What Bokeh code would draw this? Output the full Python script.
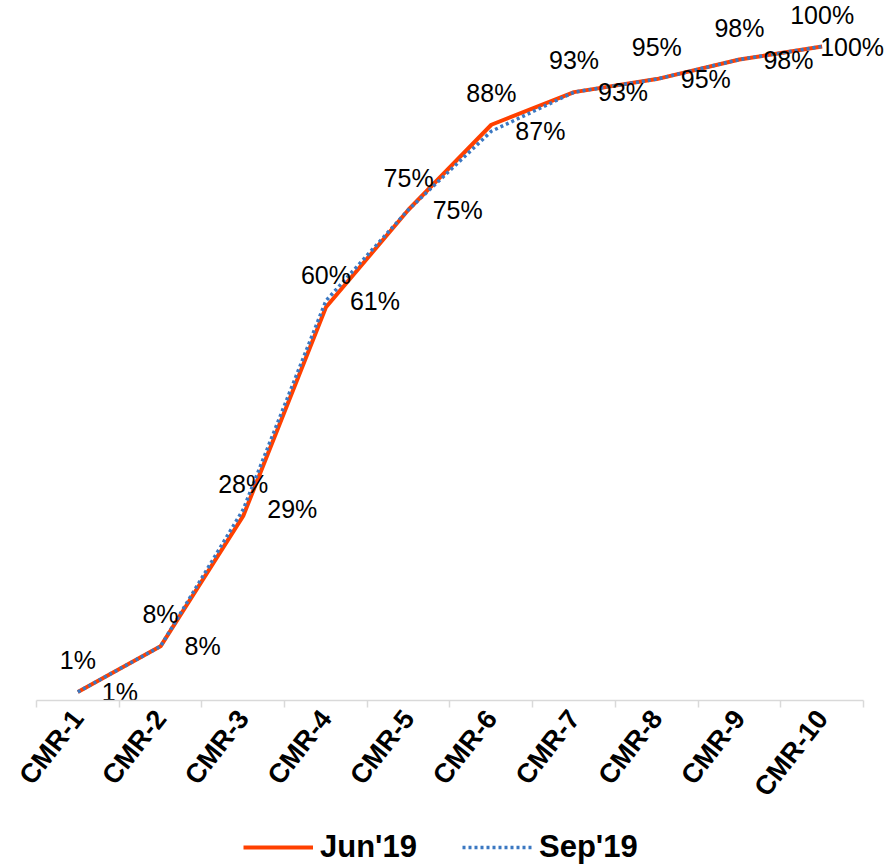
import math

from bokeh.core.properties import value
from bokeh.embed import file_html
from bokeh.layouts import column
from bokeh.models import (ColumnDataSource, FixedTicker, Legend, LegendItem,
                          LinearAxis, Range1d)
from bokeh.plotting import figure
from bokeh.resources import INLINE

# Cumulative share by CMR band
categories = ["CMR-1", "CMR-2", "CMR-3", "CMR-4", "CMR-5",
              "CMR-6", "CMR-7", "CMR-8", "CMR-9", "CMR-10"]
jun19 = [1, 8, 28, 60, 75, 88, 93, 95, 98, 100]
sep19 = [1, 8, 29, 61, 75, 87, 93, 95, 98, 100]
series_names = ["Jun'19", "Sep'19"]

FONT = "Liberation Sans"
JUN_STYLE = dict(line_color="#FF4000", line_width=4)
SEP_STYLE = dict(line_color="#3B78C2", line_width=3.5, line_dash="3 3")

n = len(categories)
xs = [i + 0.5 for i in range(n)]  # category centres

# Sep'19 labels sit to the right of each point; the last one is pulled
# back so it stays inside the chart.
sep_dx = [24] * (n - 1) + [-2]

src = ColumnDataSource(dict(
    x=xs,
    jun=jun19,
    sep=sep19,
    jun_lbl=[f"{v}%" for v in jun19],
    sep_lbl=[f"{v}%" for v in sep19],
    sep_dx=sep_dx,
))

W = 886
PX_PER_PCT = 6.52
ZERO_Y = 698      # screen row of the 0% level
FRAME_H = 700     # axis line sits at the frame bottom
CHART_H = 826
LEGEND_H = 866 - CHART_H

p = figure(
    width=W, height=CHART_H,
    x_range=Range1d(-0.435, n + 0.278),
    y_range=Range1d(-(FRAME_H - ZERO_Y) / PX_PER_PCT, ZERO_Y / PX_PER_PCT),
    x_axis_location=None, y_axis_location=None,
    output_backend="svg", toolbar_location=None,
    min_border_left=0, min_border_right=0,
    min_border_top=0, min_border_bottom=CHART_H - FRAME_H,
)
p.outline_line_color = None
p.grid.visible = False

# Category axis: labels at centres, tick marks between categories
xaxis = LinearAxis(
    ticker=FixedTicker(ticks=xs, minor_ticks=list(range(n + 1))),
    bounds=(0, n),
    major_label_overrides={x: c for x, c in zip(xs, categories)},
    major_label_orientation=math.radians(52),
    major_label_text_font=FONT,
    major_label_text_font_size="27px",
    major_label_text_font_style="bold",
    major_label_text_color="black",
    major_label_standoff=6,
    axis_line_color="#D9D9D9",
    axis_line_width=1.5,
    major_tick_line_color=None,
    minor_tick_line_color="#D9D9D9",
    minor_tick_line_width=1.5,
    minor_tick_in=0,
    minor_tick_out=7,
)
p.add_layout(xaxis, "below")

p.line("x", "jun", source=src, **JUN_STYLE)
p.line("x", "sep", source=src, **SEP_STYLE)

p.text("x", "jun", text="jun_lbl", source=src,
       text_align="center", text_baseline="middle", y_offset=-32,
       text_font=value(FONT), text_font_size="25px", text_color="black")
p.text("x", "sep", text="sep_lbl", source=src,
       text_align="left", text_baseline="middle", x_offset="sep_dx",
       text_font=value(FONT), text_font_size="25px", text_color="black")

# Legend strip under the chart; its renderers carry the series styles
leg = figure(
    width=W, height=LEGEND_H,
    x_range=Range1d(0, 1), y_range=Range1d(0, 1),
    x_axis_location=None, y_axis_location=None,
    output_backend="svg", toolbar_location=None,
    min_border=0,
)
leg.outline_line_color = None
leg.grid.visible = False
k_jun = leg.line([-1], [-1], **JUN_STYLE)
k_sep = leg.line([-1], [-1], **SEP_STYLE)

legend = Legend(
    items=[LegendItem(label=series_names[0], renderers=[k_jun]),
           LegendItem(label=series_names[1], renderers=[k_sep])],
    orientation="horizontal",
    location=(243, 1),
    glyph_width=70, glyph_height=20,
    label_standoff=7, spacing=45,
    padding=0, margin=0,
    label_text_font=FONT, label_text_font_size="31px",
    label_text_font_style="bold", label_text_color="black",
    border_line_color=None, background_fill_alpha=0,
)
leg.add_layout(legend, "center")

open("out.html", "w").write(file_html(column(p, leg, spacing=0), INLINE))
